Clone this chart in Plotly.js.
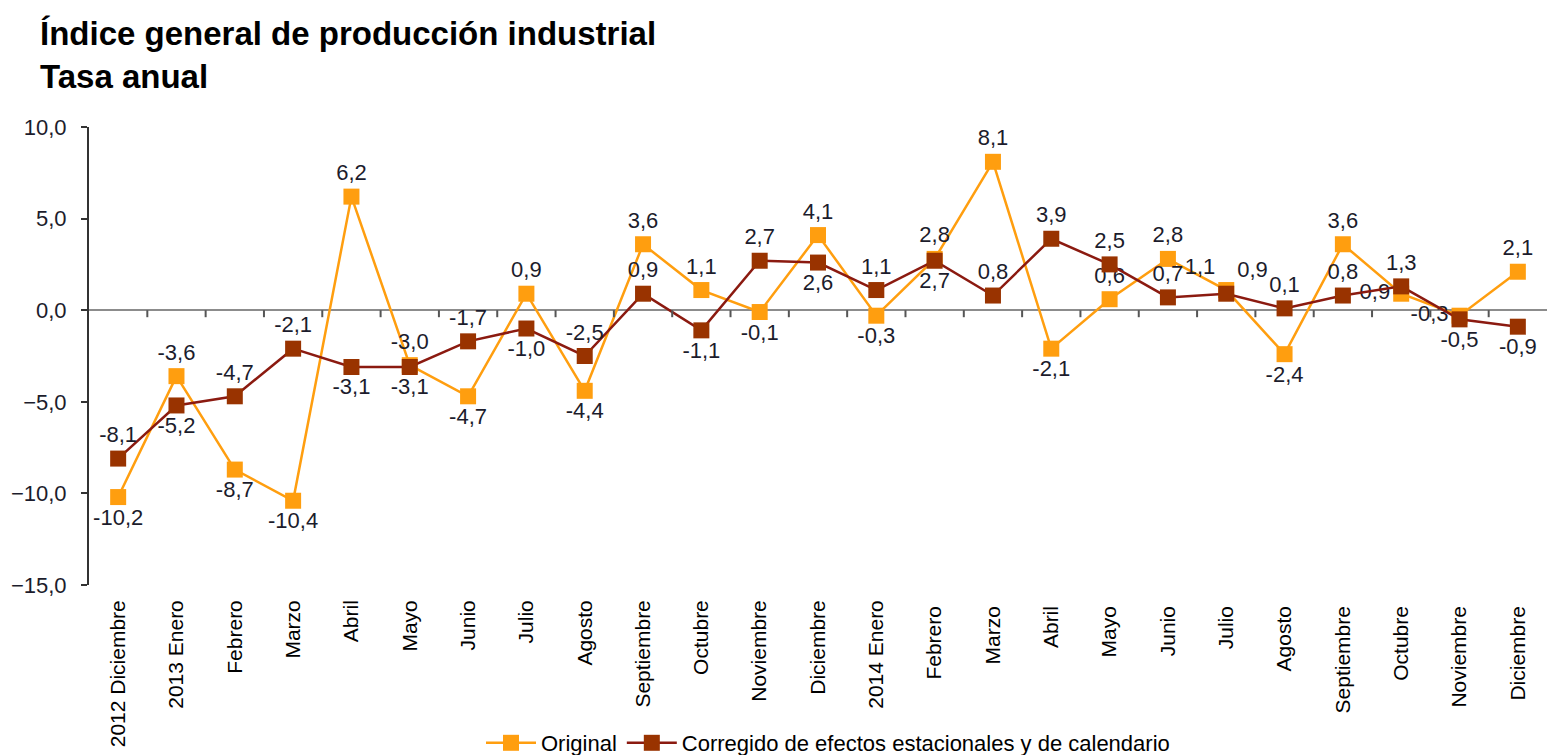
<!DOCTYPE html>
<html>
<head>
<meta charset="utf-8">
<script src="https://cdn.plot.ly/plotly-3.0.1.min.js"></script>
<style>html,body{margin:0;padding:0;background:#fff;}#chart{width:1547px;height:755px;}</style>
</head>
<body>
<div id="chart"></div>
<script>
const categories = ["2012 Diciembre","2013 Enero","Febrero","Marzo","Abril","Mayo","Junio","Julio","Agosto","Septiembre","Octubre","Noviembre","Diciembre","2014 Enero","Febrero ","Marzo ","Abril ","Mayo ","Junio ","Julio ","Agosto ","Septiembre ","Octubre ","Noviembre ","Diciembre "];
const original = [-10.2,-3.6,-8.7,-10.4,6.2,-3.0,-4.7,0.9,-4.4,3.6,1.1,-0.1,4.1,-0.3,2.8,8.1,-2.1,0.6,2.8,1.1,-2.4,3.6,0.9,-0.3,2.1];
const corregido = [-8.1,-5.2,-4.7,-2.1,-3.1,-3.1,-1.7,-1.0,-2.5,0.9,-1.1,2.7,2.6,1.1,2.7,0.8,3.9,2.5,0.7,0.9,0.1,0.8,1.3,-0.5,-0.9];
const posOriginal = ["bottom center","top center","bottom center","bottom center","top center","top center","bottom center","top center","bottom center","top center","top center","bottom center","top center","bottom center","top center","top center","bottom center","top center","top center","top left","bottom center","top center","middle left","middle left","top center"];
const posCorregido = ["top center","bottom center","top center","top center","bottom center","bottom center","top center","bottom center","top center","top center","bottom center","top center","bottom center","top center","bottom center","top center","top center","top center","top center","top right","top center","top center","top center","bottom center","bottom center"];

const fmt = v => v.toFixed(1).replace('.', ',');
const FONT = "Liberation Sans, Arial, sans-serif";
const labelFont = {family: FONT, size: 22, color: "#1c1c2c"};

const traces = [
  {
    x: categories, y: original, name: "Original", type: "scatter", mode: "lines+markers+text",
    line: {color: "#FF9E0F", width: 2.5},
    marker: {symbol: "square", size: 16, color: "#FF9E0F"},
    text: original.map(fmt), textposition: posOriginal, textfont: labelFont,
    cliponaxis: false
  },
  {
    x: categories, y: corregido, name: "Corregido de efectos estacionales y de calendario", type: "scatter", mode: "lines+markers+text",
    line: {color: "#8B1A10", width: 2.5},
    marker: {symbol: "square", size: 16, color: "#993300"},
    text: corregido.map(fmt), textposition: posCorregido, textfont: labelFont,
    cliponaxis: false
  }
];

const shapes = [];
for (let i = 0; i < categories.length - 1; i++) {
  shapes.push({type: "line", xref: "x", yref: "y", x0: i + 0.5, x1: i + 0.5,
    ysizemode: "pixel", yanchor: 0, y0: 0, y1: -7, line: {color: "#555", width: 2}});
}

const layout = {
  width: 1547, height: 755,
  margin: {l: 89, r: 0, t: 127, b: 170, autoexpand: false},
  paper_bgcolor: "#fff", plot_bgcolor: "#fff",
  font: {family: FONT, color: "#1c1c2c"},
  title: {
    text: "<b>Índice general de producción industrial<br>Tasa anual</b>",
    font: {family: FONT, size: 33, color: "#000"},
    xref: "container", yref: "container", x: 40/1547, xanchor: "left", y: 1 - 45/755, yanchor: "top"
  },
  separators: ",.",
  xaxis: {
    type: "category", range: [-0.5, categories.length - 0.5], automargin: false,
    showgrid: false, showline: false, ticks: "", zeroline: false,
    tickangle: -90, tickfont: {size: 21, color: "#000"}, ticklabelstandoff: 10
  },
  yaxis: {
    range: [-15, 10], dtick: 5, tickformat: ".1f", automargin: false,
    showgrid: false, showline: true, linecolor: "#333", linewidth: 2,
    ticks: "outside", ticklen: 6, tickcolor: "#333", tickwidth: 2,
    zeroline: true, zerolinecolor: "#8c8c8c", zerolinewidth: 2,
    tickfont: {size: 22, color: "#1c1c2c"}, ticklabelstandoff: 10
  },
  shapes: shapes,
  showlegend: true,
  legend: {orientation: "h", xref: "container", yref: "container", x: 828/1547, xanchor: "center", y: 33/755, yanchor: "top",
    font: {size: 22, color: "#000"}, bgcolor: "rgba(0,0,0,0)", itemwidth: 50}
};

Plotly.newPlot("chart", traces, layout, {displayModeBar: false});
</script>
</body>
</html>
